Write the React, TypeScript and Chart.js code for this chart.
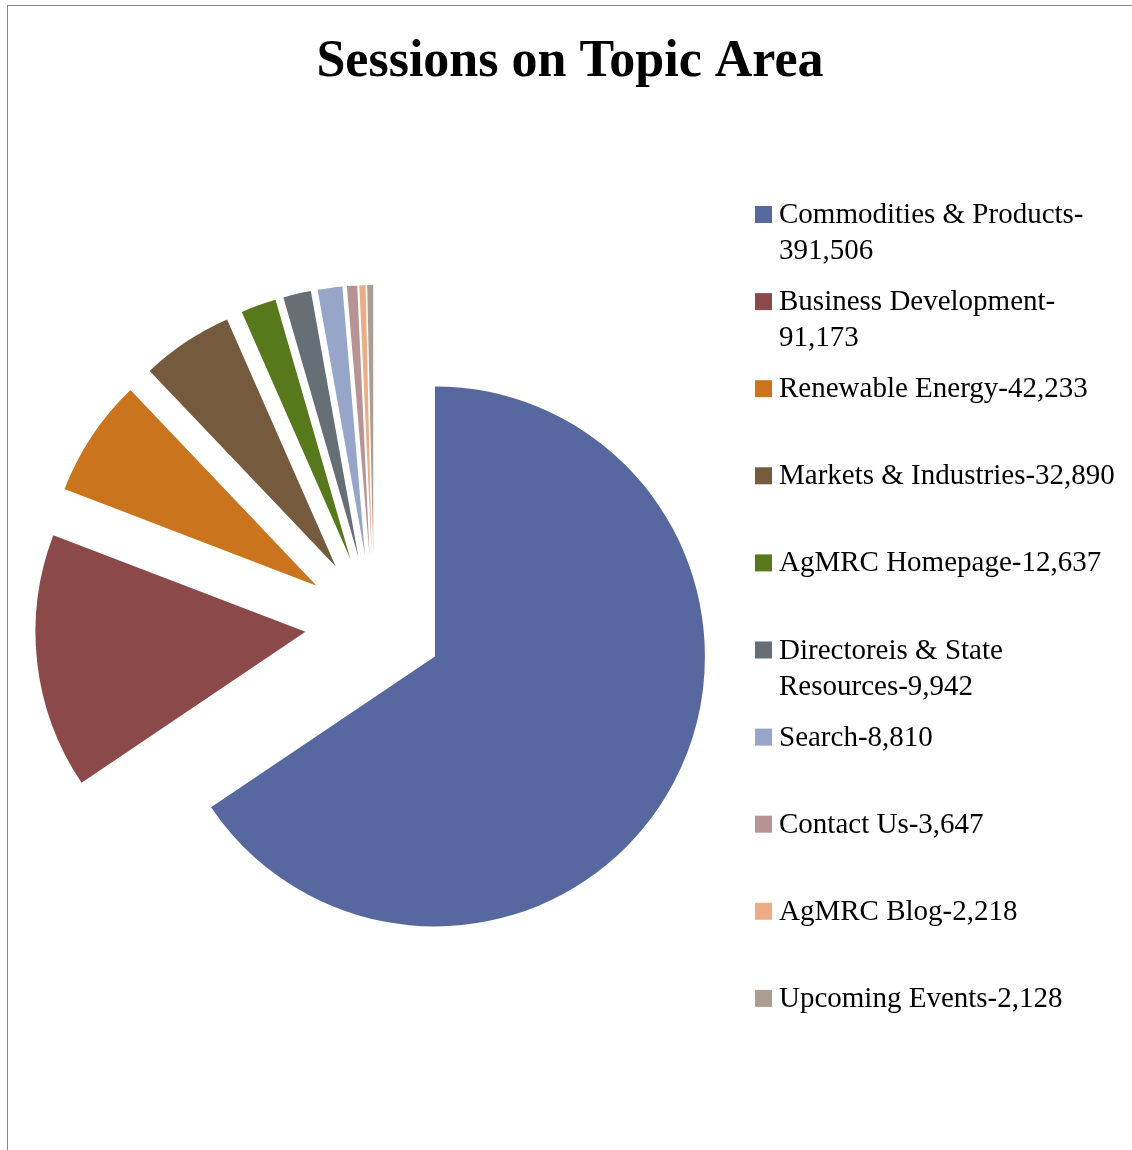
import React, { useEffect, useRef } from 'react';
import { Chart, registerables, layouts } from 'chart.js';

Chart.register(...registerables);

// ---- data ----
const chartTitle = 'Sessions on Topic Area';
const topics = [
  'Commodities & Products',
  'Business Development',
  'Renewable Energy',
  'Markets & Industries',
  'AgMRC Homepage',
  'Directoreis & State Resources',
  'Search',
  'Contact Us',
  'AgMRC Blog',
  'Upcoming Events',
];
const sessions = [391506, 91173, 42233, 32890, 12637, 9942, 8810, 3647, 2218, 2128];
const sliceColors = [
  '#56689F',
  '#8B494A',
  '#CB741E',
  '#765A3D',
  '#57791B',
  '#676F76',
  '#97A5C8',
  '#B79393',
  '#EBAC86',
  '#AB9D8F',
];

// ---- styling ----
const FONT = "'Liberation Serif', 'Times New Roman', serif";
const PIE_RADIUS = 270;
const EXPLODE = 69;
const LEGEND_WIDTH = 392;
const LEGEND_FONT_SIZE = 29;
const LEGEND_ROW = 87.1;
const LEGEND_BASELINE = 34.5;
const LEGEND_LINE = 36;
const MARKER_X = 15;
const MARKER_SIZE = 17;
const TEXT_X = 39;
const TEXT_MAX = 345;

function legendLabel(i: number): string {
  return topics[i] + '-' + sessions[i].toLocaleString('en-US');
}

function wrapLabel(ctx: CanvasRenderingContext2D, i: number, maxWidth: number): string[] {
  const words = topics[i].split(' ');
  const tokens: { t: string; sp: boolean }[] = words.map((w, k) => ({
    t: k === words.length - 1 ? w + '-' : w,
    sp: k > 0,
  }));
  tokens.push({ t: sessions[i].toLocaleString('en-US'), sp: false });
  const lines: string[] = [];
  let cur = '';
  tokens.forEach((tok) => {
    const cand = cur === '' ? tok.t : cur + (tok.sp ? ' ' : '') + tok.t;
    if (cur !== '' && ctx.measureText(cand).width > maxWidth) {
      lines.push(cur);
      cur = tok.t;
    } else {
      cur = cand;
    }
  });
  if (cur) lines.push(cur);
  return lines;
}

function drawLegend(chart: any, box: any) {
  const ctx: CanvasRenderingContext2D = chart.ctx;
  ctx.save();
  ctx.font = `${LEGEND_FONT_SIZE}px ${FONT}`;
  ctx.textAlign = 'left';
  ctx.textBaseline = 'alphabetic';
  const n = topics.length;
  const startY = box.top + (box.height - n * LEGEND_ROW) / 2;
  for (let i = 0; i < n; i++) {
    const baseline = startY + i * LEGEND_ROW + LEGEND_BASELINE;
    ctx.fillStyle = sliceColors[i];
    ctx.fillRect(box.left + MARKER_X, baseline - MARKER_SIZE, MARKER_SIZE, MARKER_SIZE);
    ctx.fillStyle = '#000000';
    const lines = wrapLabel(ctx, i, TEXT_MAX);
    lines.forEach((line, j) => {
      ctx.fillText(line, box.left + TEXT_X, baseline + j * LEGEND_LINE);
    });
  }
  ctx.restore();
}

const sideLegendPlugin = {
  id: 'sideLegend',
  beforeInit(chart: any) {
    const box: any = {
      position: 'right',
      weight: 0,
      fullSize: false,
      options: {},
      left: 0,
      top: 0,
      right: 0,
      bottom: 0,
      width: 0,
      height: 0,
      isHorizontal() {
        return false;
      },
      update(_maxWidth: number, maxHeight: number) {
        box.width = LEGEND_WIDTH;
        box.height = maxHeight;
      },
      draw() {
        drawLegend(chart, box);
      },
    };
    layouts.addBox(chart, box);
  },
};

const explodePlugin = {
  id: 'explodeSlices',
  afterDatasetsUpdate(chart: any) {
    chart.getDatasetMeta(0).data.forEach((arc: any) => {
      const mid = (arc.startAngle + arc.endAngle) / 2;
      arc.x += Math.cos(mid) * EXPLODE;
      arc.y += Math.sin(mid) * EXPLODE;
    });
  },
};

export default function App() {
  const canvasRef = useRef<HTMLCanvasElement | null>(null);

  useEffect(() => {
    if (!canvasRef.current) return;
    const chart = new Chart(canvasRef.current, {
      type: 'pie',
      data: {
        labels: topics.map((_, i) => legendLabel(i)),
        datasets: [
          {
            data: sessions,
            backgroundColor: sliceColors,
            borderWidth: 0,
            radius: PIE_RADIUS,
          } as any,
        ],
      },
      options: {
        responsive: false,
        animation: false,
        events: [],
        layout: { padding: 0 },
        plugins: {
          legend: { display: false },
          tooltip: { enabled: false },
          title: {
            display: true,
            text: chartTitle,
            color: '#000000',
            font: { family: FONT, size: 52, weight: 'bold', lineHeight: 1.2 },
            padding: { top: 25, bottom: 4.6 },
          },
        },
      } as any,
      plugins: [sideLegendPlugin, explodePlugin],
    });
    return () => chart.destroy();
  }, []);

  return (
    <div
      style={{
        position: 'absolute',
        left: 7,
        top: 5,
        borderTop: '1px solid #868686',
        borderLeft: '1px solid #868686',
        background: '#ffffff',
      }}
    >
      <canvas ref={canvasRef} width={1124} height={1144} style={{ display: 'block' }} />
    </div>
  );
}
